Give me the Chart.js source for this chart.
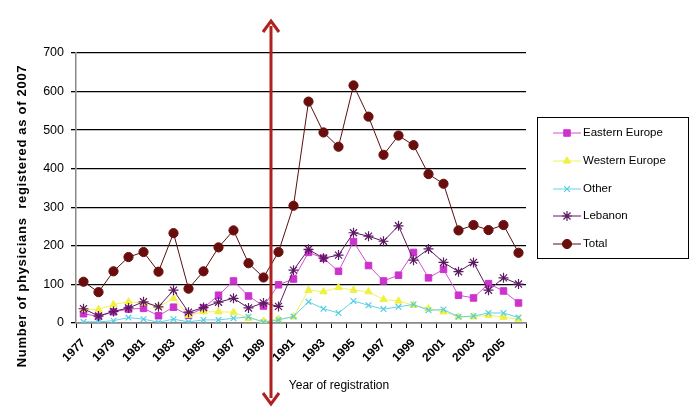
<!DOCTYPE html>
<html>
<head>
<meta charset="utf-8">
<script src="https://cdn.jsdelivr.net/npm/chart.js@4/dist/chart.umd.min.js"></script>
<style>
html,body{margin:0;padding:0;background:#fff;}
canvas{display:block;}
</style>
</head>
<body>
<canvas id="c" width="693" height="411"></canvas>
<script>
const years = [1977,1978,1979,1980,1981,1982,1983,1984,1985,1986,1987,1988,1989,1990,1991,1992,1993,1994,1995,1996,1997,1998,1999,2000,2001,2002,2003,2004,2005,2006];
const easternEurope = [24,17,29,36,38,19,41,20,39,72,109,70,44,99,114,183,168,134,211,149,109,124,183,117,139,72,65,102,83,52];
const westernEurope = [35,35,48,55,52,42,64,20,29,29,28,12,5,10,16,85,81,92,85,81,61,57,46,37,29,16,16,20,15,10];
const other = [3,3,6,14,10,2,10,3,8,8,12,16,2,8,17,55,37,26,57,46,36,42,48,33,35,16,18,26,26,14];
const lebanon = [37,18,30,39,55,42,85,28,40,54,64,39,52,43,137,191,168,176,234,225,212,252,163,192,157,133,157,85,117,101];
const total = [107,80,134,171,184,133,233,89,134,196,240,155,118,184,304,574,494,457,616,535,436,486,461,386,361,240,254,241,254,182];
const yTicks = [0,100,200,300,400,500,600,700];
const seriesNames = ['Eastern Europe','Western Europe','Other','Lebanon','Total'];
const arrowBetween = [1989, 1990];

const F = '"Liberation Sans", Arial, sans-serif';

const datasets = [
  {label: seriesNames[0], data: easternEurope, borderColor:'#d44fd4', backgroundColor:'#cc33cc', pointBorderColor:'#cc33cc', pointStyle:'rect', pointRadius:4.6, borderWidth:1, order:5},
  {label: seriesNames[1], data: westernEurope, borderColor:'#f2f25a', backgroundColor:'#f0f040', pointBorderColor:'#f0f040', pointStyle:'triangle', pointRadius:4.2, borderWidth:1, order:4},
  {label: seriesNames[2], data: other, borderColor:'#62d3e6', backgroundColor:'#62d3e6', pointBorderColor:'#55cde3', pointStyle:'crossRot', pointRadius:4, pointBorderWidth:1.2, borderWidth:1, order:3},
  {label: seriesNames[3], data: lebanon, borderColor:'#5c1a62', backgroundColor:'#5c1a62', pointBorderColor:'#5c1a62', pointStyle:'star', pointRadius:5, pointBorderWidth:1.2, borderWidth:1, order:2},
  {label: seriesNames[4], data: total, borderColor:'#5a0f0f', backgroundColor:'#6a0d0d', pointBorderColor:'#6a0d0d', pointStyle:'circle', pointRadius:4.6, borderWidth:1, order:1}
];
datasets.forEach(d => { d.tension = 0; d.fill = false; d.pointHoverRadius = d.pointRadius; if (d.pointBorderWidth === undefined) d.pointBorderWidth = 1; d.pointBackgroundColor = d.backgroundColor; });

const overlay = {
  id: 'overlay',
  afterDraw(chart) {
    const ctx = chart.ctx;
    const xs = chart.scales.x;
    ctx.save();
    // axis titles
    ctx.fillStyle = '#000';
    ctx.font = 'bold 13px ' + F;
    ctx.textAlign = 'center';
    ctx.textBaseline = 'middle';
    ctx.save();
    ctx.translate(22, 216);
    ctx.rotate(-Math.PI/2);
    if ('letterSpacing' in ctx) ctx.letterSpacing = '0.7px';
    ctx.fillText('Number of physicians  registered as of 2007', 0, 0);
    ctx.restore();
    ctx.font = '12px ' + F;
    ctx.fillText('Year of registration', 339, 386);

    // legend
    ctx.strokeStyle = '#000';
    ctx.lineWidth = 1;
    ctx.strokeRect(537.5, 117.5, 151, 141);
    const ly = [133, 161, 189, 216, 244];
    ctx.textAlign = 'left';
    ctx.font = '11.5px ' + F;
    chart.data.datasets.forEach((d, i) => {
      const y = ly[i];
      ctx.strokeStyle = d.borderColor;
      ctx.lineWidth = 1;
      ctx.beginPath(); ctx.moveTo(553, y); ctx.lineTo(581, y); ctx.stroke();
      ctx.fillStyle = d.pointBackgroundColor;
      ctx.strokeStyle = d.pointBorderColor;
      ctx.lineWidth = d.pointBorderWidth;
      Chart.helpers.drawPoint(ctx, {pointStyle: d.pointStyle, radius: d.pointRadius, rotation: 0, borderWidth: d.pointBorderWidth}, 567, y);
      ctx.fillStyle = '#000';
      ctx.fillText(d.label, 583, y);
    });

    // red arrow
    const i0 = years.indexOf(arrowBetween[0]);
    const i1 = years.indexOf(arrowBetween[1]);
    const ax = Math.round((xs.getPixelForValue(i0) + xs.getPixelForValue(i1)) / 2);
    const c = '#b0201f';
    ctx.strokeStyle = c; ctx.fillStyle = c;
    ctx.lineWidth = 3;
    ctx.beginPath(); ctx.moveTo(ax, 26); ctx.lineTo(ax, 398); ctx.stroke();
    ctx.lineWidth = 3; ctx.lineJoin = 'miter';
    ctx.beginPath(); ctx.moveTo(ax-8, 32); ctx.lineTo(ax, 21); ctx.lineTo(ax+8, 32); ctx.stroke();
    ctx.beginPath(); ctx.moveTo(ax-8, 393); ctx.lineTo(ax, 404); ctx.lineTo(ax+8, 393); ctx.stroke();
    ctx.restore();
  }
};

new Chart(document.getElementById('c'), {
  type: 'line',
  data: { labels: years.map(String), datasets },
  options: {
    responsive: false,
    devicePixelRatio: 1,
    animation: false,
    layout: { padding: { left: 0, top: 53, right: 167, bottom: 0 } },
    plugins: { legend: { display: false }, tooltip: { enabled: false }, title: { display: false } },
    scales: {
      x: {
        type: 'category',
        offset: true,
        afterFit(s) { s.height = 88; },
        grid: { offset: true, drawOnChartArea: false, drawTicks: true, tickLength: 5, color: '#000', lineWidth: 1 },
        border: { color: '#8a8a8a', width: 1.5 },
        ticks: {
          autoSkip: false, maxRotation: 45, minRotation: 45, padding: 8,
          color: '#000', font: { family: F, size: 12, weight: 'bold' },
          callback(v, i) { return i % 2 === 0 ? years[i] : ''; }
        }
      },
      y: {
        min: 0, max: 700,
        afterFit(s) { s.width = 76; },
        afterBuildTicks(s) { s.ticks = yTicks.map(v => ({ value: v })); },
        grid: { color: '#000', lineWidth: 1.3, tickLength: 5, drawTicks: true },
        border: { color: '#8a8a8a', width: 1.5 },
        ticks: { color: '#000', padding: 7, font: { family: F, size: 12.5 } }
      }
    }
  },
  plugins: [overlay]
});
</script>
</body>
</html>
